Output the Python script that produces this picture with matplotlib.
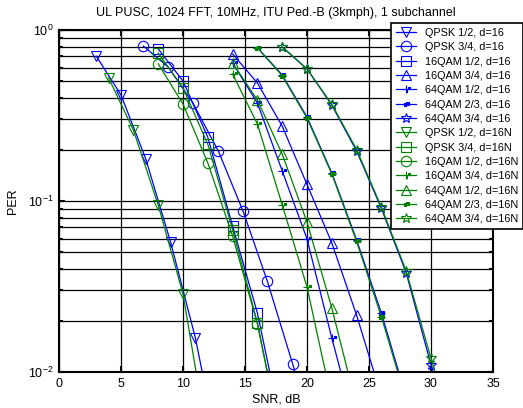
import numpy as np
import matplotlib
matplotlib.use("Agg")
import matplotlib.pyplot as plt
from matplotlib.path import Path

# ======================
# DATA (SNR in dB, PER)
# ======================
snr_b_qpsk12 = [3, 5, 7, 9, 11, 13]
per_b_qpsk12 = [0.704, 0.417, 0.176, 0.0575, 0.0158, 0.003]
snr_b_qpsk34 = [6.8, 8.8, 10.8, 12.85, 14.85, 16.8, 18.85, 20.85]
per_b_qpsk34 = [0.806, 0.608, 0.374, 0.196, 0.087, 0.034, 0.0111, 0.0035]
snr_b_16qam12 = [8, 10, 12, 14, 16, 18]
per_b_16qam12 = [0.775, 0.503, 0.236, 0.0714, 0.0221, 0.0045]
snr_b_16qam34 = [14, 16, 18, 20, 22, 24, 26]
per_b_16qam34 = [0.724, 0.49, 0.274, 0.125, 0.0569, 0.0215, 0.0072]
snr_b_64qam12 = [14, 16, 18, 20, 22, 24]
per_b_64qam12 = [0.641, 0.374, 0.15, 0.06, 0.0158, 0.0045]
snr_b_64qam23 = [16, 18, 20, 22, 24, 26, 28]
per_b_64qam23 = [0.787, 0.546, 0.31, 0.146, 0.0592, 0.0221, 0.0071]
snr_b_64qam34 = [18, 20, 22, 24, 26, 28, 30, 32]
per_b_64qam34 = [0.796, 0.592, 0.364, 0.196, 0.0904, 0.038, 0.011, 0.0035]

snr_g_qpsk12 = [4, 6, 8, 10, 12]
per_g_qpsk12 = [0.524, 0.26, 0.0948, 0.0286, 0.0039]
snr_g_qpsk34 = [8, 10, 12, 14, 16, 18]
per_g_qpsk34 = [0.733, 0.458, 0.215, 0.068, 0.0194, 0.0037]
snr_g_16qam12 = [8, 10, 12, 14, 16, 18]
per_g_16qam12 = [0.634, 0.369, 0.167, 0.0624, 0.0191, 0.0038]
snr_g_16qam34 = [14, 16, 18, 20, 22]
per_g_16qam34 = [0.553, 0.282, 0.095, 0.0314, 0.0068]
snr_g_64qam12 = [14, 16, 18, 20, 22, 24]
per_g_64qam12 = [0.641, 0.39, 0.188, 0.0753, 0.0237, 0.0063]
snr_g_64qam23 = [16, 18, 20, 22, 24, 26, 28]
per_g_64qam23 = [0.787, 0.54, 0.305, 0.144, 0.058, 0.021, 0.0068]
snr_g_64qam34 = [18, 20, 22, 24, 26, 28, 30, 32]
per_g_64qam34 = [0.796, 0.592, 0.368, 0.2, 0.092, 0.039, 0.012, 0.0038]

TITLE = "UL PUSC, 1024 FFT, 10MHz, ITU Ped.-B (3kmph), 1 subchannel"
BLUE = "#0000ff"
GREEN = "#008000"

# ======================
# custom markers ("+." and "." look)
# ======================
def sq(cx, cy, h):
    return [(cx - h, cy - h), (cx + h, cy - h), (cx + h, cy + h), (cx - h, cy + h), (cx - h, cy - h)]

plus_dot_verts = [(-1, 0), (1, 0), (0, -1), (0, 1)] + sq(0.1, -0.45, 0.22) + sq(0.75, 0.2, 0.22)
plus_dot_codes = [Path.MOVETO, Path.LINETO, Path.MOVETO, Path.LINETO] + \
    [Path.MOVETO, Path.LINETO, Path.LINETO, Path.LINETO, Path.CLOSEPOLY] * 2
PLUS_DOT = Path(plus_dot_verts, plus_dot_codes)

dots_verts = [(-1, 0), (1, 0)] + sq(-0.25, -0.1, 0.3) + sq(0.35, 0.1, 0.3)
dots_codes = [Path.MOVETO, Path.LINETO] + \
    [Path.MOVETO, Path.LINETO, Path.LINETO, Path.LINETO, Path.CLOSEPOLY] * 2
DOTS = Path(dots_verts, dots_codes)

# ======================
# PLOT
# ======================
plt.rcParams["font.family"] = ["Liberation Sans", "DejaVu Sans"]
plt.rcParams["mathtext.fontset"] = "custom"
plt.rcParams["mathtext.rm"] = "Liberation Sans"

fig = plt.figure(figsize=(5.23, 4.08), dpi=100)
ax = fig.add_axes([59 / 523, 1 - 372 / 408, (493 - 59) / 523, (372 - 30) / 408])

series = [
    (snr_b_qpsk12, per_b_qpsk12, BLUE, "v", "QPSK 1/2, d=16"),
    (snr_b_qpsk34, per_b_qpsk34, BLUE, "o", "QPSK 3/4, d=16"),
    (snr_b_16qam12, per_b_16qam12, BLUE, "s", "16QAM 1/2, d=16"),
    (snr_b_16qam34, per_b_16qam34, BLUE, "^", "16QAM 3/4, d=16"),
    (snr_b_64qam12, per_b_64qam12, BLUE, PLUS_DOT, "64QAM 1/2, d=16"),
    (snr_b_64qam23, per_b_64qam23, BLUE, DOTS, "64QAM 2/3, d=16"),
    (snr_b_64qam34, per_b_64qam34, BLUE, "*", "64QAM 3/4, d=16"),
    (snr_g_qpsk12, per_g_qpsk12, GREEN, "v", "QPSK 1/2, d=16N"),
    (snr_g_qpsk34, per_g_qpsk34, GREEN, "s", "QPSK 3/4, d=16N"),
    (snr_g_16qam12, per_g_16qam12, GREEN, "o", "16QAM 1/2, d=16N"),
    (snr_g_16qam34, per_g_16qam34, GREEN, PLUS_DOT, "16QAM 3/4, d=16N"),
    (snr_g_64qam12, per_g_64qam12, GREEN, "^", "64QAM 1/2, d=16N"),
    (snr_g_64qam23, per_g_64qam23, GREEN, DOTS, "64QAM 2/3, d=16N"),
    (snr_g_64qam34, per_g_64qam34, GREEN, "*", "64QAM 3/4, d=16N"),
]

for x, y, col, mk, lab in series:
    custom = isinstance(mk, Path)
    ax.semilogy(x, y, color=col, lw=0.9, marker=mk,
                markersize=7.5 if not custom else 6,
                markerfacecolor=col if custom else "none",
                markeredgecolor=col, markeredgewidth=0.8, label=lab)

ax.set_xlim(0, 35)
ax.set_ylim(1e-2, 1)
ax.set_xticks(range(0, 36, 5))
ax.grid(True, which="both", color="black", lw=0.9)
ax.tick_params(which="both", direction="in", top=True, right=True, labelsize=9, width=1.5)
ax.tick_params(which="major", length=4, pad=4)
ax.tick_params(which="minor", length=3)
for sp in ax.spines.values():
    sp.set_linewidth(1.5)

ax.set_title(TITLE, fontsize=9, pad=10)
ax.set_xlabel("SNR, dB", fontsize=9, labelpad=3)
ax.set_ylabel("PER", fontsize=9, labelpad=6)

leg = ax.legend(loc="upper left", bbox_to_anchor=(391 / 523, 1 - 23 / 408),
                bbox_transform=fig.transFigure, borderaxespad=0, fontsize=7.8,
                fancybox=False, framealpha=1, edgecolor="black",
                handlelength=1.9, handletextpad=0.8, labelspacing=0.4,
                borderpad=0.45)
leg.get_frame().set_linewidth(1.2)

plt.savefig("out.png", dpi=100)
plt.close()
